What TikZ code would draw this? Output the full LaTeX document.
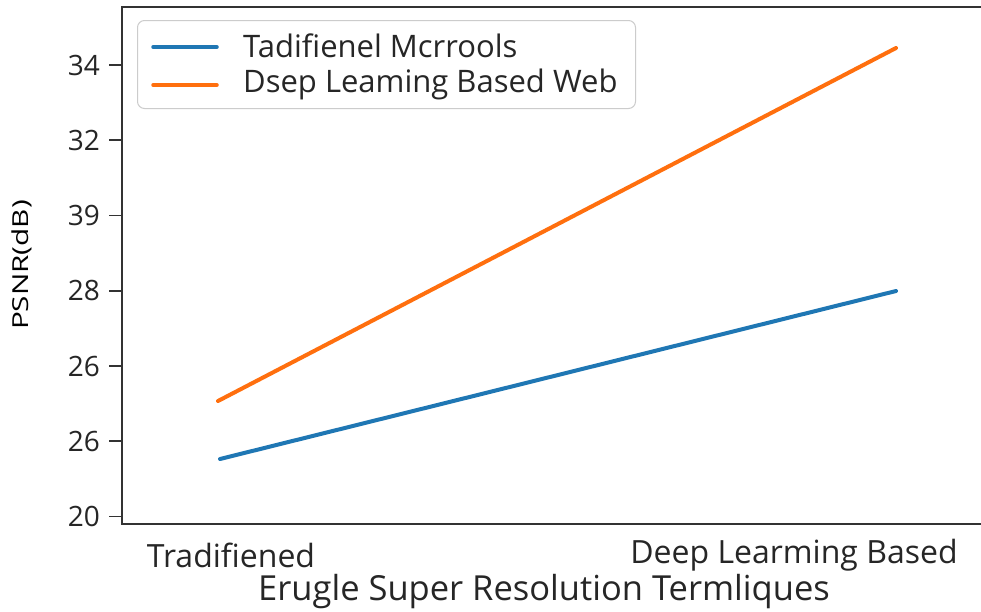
\documentclass[tikz,border=0pt]{standalone}
\usepackage{fontspec}
\setmainfont{Open Sans}
\definecolor{mblue}{HTML}{1F77B4}
\definecolor{morange}{HTML}{FF6F0E}
\definecolor{framegray}{HTML}{333333}
\tikzset{
  ticklabel/.style={anchor=east, font=\fontsize{28}{28}\selectfont, inner sep=0pt, text=black!85},
  tickmark/.style={line width=1.6pt, framegray},
  axisframe/.style={line width=2pt, framegray},
  dataline/.style={line width=4pt, line cap=round},
  legendtext/.style={anchor=west, font=\fontsize{31}{31}\selectfont, inner sep=0pt, text=black!85},
  xticklabel/.style={font=\fontsize{32}{32}\selectfont, inner sep=0pt, text=black!85},
}
\begin{document}
\begin{tikzpicture}[x=1pt,y=-1pt]
\useasboundingbox (0,0) rectangle (981,611);
\clip (0,0) rectangle (981,611);
\fill[white] (0,0) rectangle (981,611);
% frame
\draw[axisframe] (122,7) rectangle (990,524);
% y ticks
\foreach \lab [count=\i from 0] in {20,26,26,28,39,32,34} {
  \pgfmathsetmacro{\yy}{516.5-75.25*\i}
  \draw[tickmark] (109,\yy) -- (122,\yy);
  \node[ticklabel] (yt\i) at (100,\yy) {\lab};
}
% y label
\node[rotate=90, font=\fontsize{22}{22}\selectfont, inner sep=0pt] (ylab) at (22,265) {\scalebox{1.35}[1]{PSNR(dB)}};
% data
\coordinate (b1) at (220,459);
\coordinate (b2) at (896,291);
\coordinate (o1) at (218,401);
\coordinate (o2) at (896,48);
\draw[dataline, mblue] (b1) -- (b2);
\draw[dataline, morange] (o1) -- (o2);
% legend
\node[draw=black!20, line width=1pt, rounded corners=7pt, fill=white, minimum width=498pt, minimum height=88pt, anchor=north west, inner sep=0pt] (legend) at (137,20) {};
\coordinate (lb1) at (153,47);
\coordinate (lb2) at (217,47);
\coordinate (lo1) at (153,85);
\coordinate (lo2) at (217,85);
\draw[dataline, mblue, line width=3.5pt] (lb1) -- (lb2);
\draw[dataline, morange, line width=3.5pt] (lo1) -- (lo2);
\node[legendtext] (lt1) at (243,46) {Tadifienel Mcrrools};
\node[legendtext] (lt2) at (243,84) {Dsep Leaming Based Web};
% x tick labels
\node[xticklabel] (xt1) at (231,555) {Tradifiened};
\node[xticklabel] (xt2) at (794,555) {Deep Learming Based};
% x label
\node[font=\fontsize{34.5}{34.5}\selectfont, inner sep=0pt, text=black!85] (xlab) at (544,592) {Erugle Super Resolution Termliques};
\end{tikzpicture}
\end{document}
